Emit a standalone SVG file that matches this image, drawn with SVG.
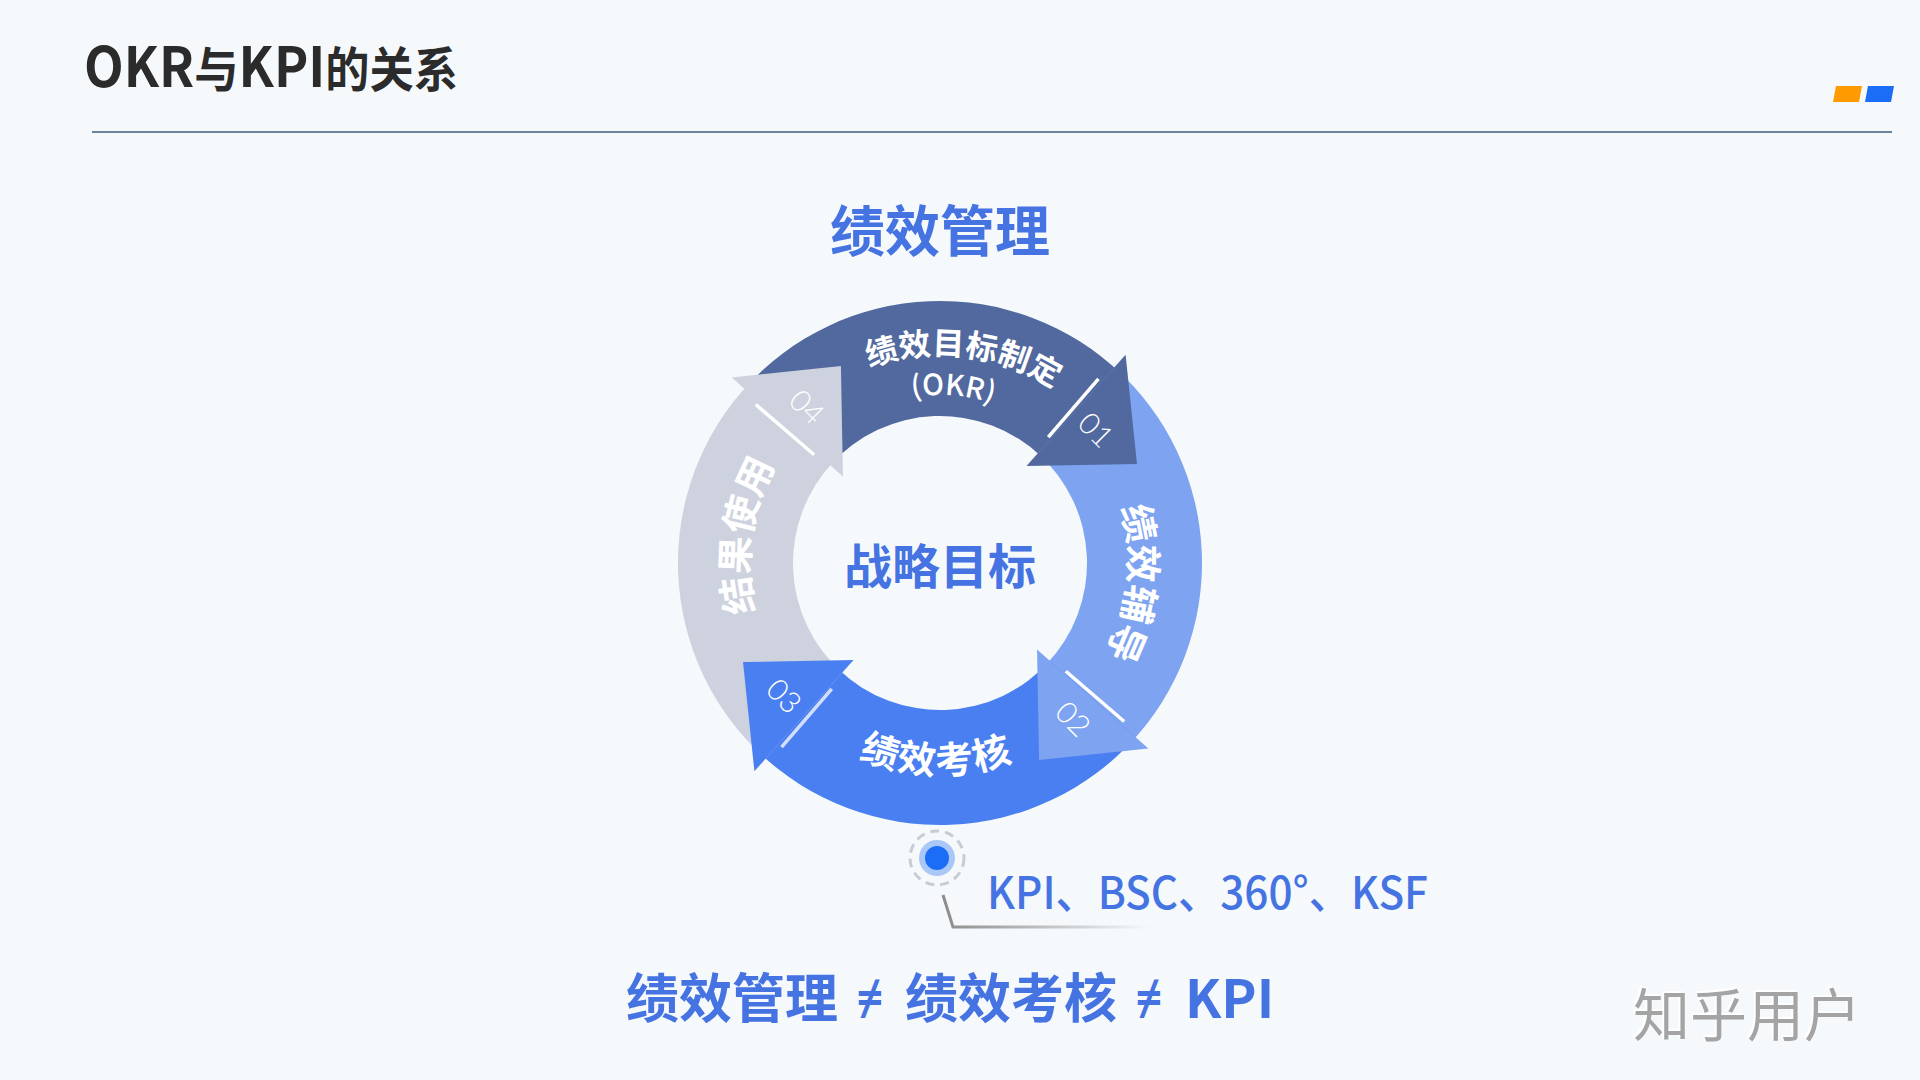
<svg xmlns="http://www.w3.org/2000/svg" xmlns:xlink="http://www.w3.org/1999/xlink" width="1920" height="1080" viewBox="0 0 1920 1080">
<defs>
<style>
.cjk{font-family:"Noto Sans CJK SC","Noto Sans",sans-serif}
.wb{fill:#ffffff;font-weight:700}
.num{font-family:"Lato","Noto Sans",sans-serif;font-weight:300;font-size:30px;fill:#ffffff}
.sep{stroke:#ffffff;stroke-width:3.5;stroke-linecap:butt}
.blue{fill:#4673E2}
.neq{font-family:"Noto Sans","DejaVu Sans",sans-serif;font-size:46px;font-weight:700;fill:#4673E2}
.ttl{font-family:"Noto Sans CJK SC","Noto Sans",sans-serif;font-weight:700;fill:#2B2B2B}
</style>
<path id="pTop" d="M 773.01 438.99 A 208 208 0 0 1 1130.89 480.39"/>
<path id="pOkr" d="M 801.30 468.23 A 168 168 0 0 1 1091.41 490.14"/>
<path id="pRight" d="M 1051.09 410.10 A 189 189 0 0 1 1016.87 735.66"/>
<path id="pLeft" d="M 822.41 713.51 A 191 191 0 0 1 868.45 385.91"/>
<path id="pBottom" d="M 755.46 665.29 A 211 211 0 0 0 1120.86 671.67"/>
<linearGradient id="leadGrad" x1="0" y1="0" x2="1" y2="0">
<stop offset="0" stop-color="#8c8c8c"/>
<stop offset="1" stop-color="#8c8c8c" stop-opacity="0"/>
</linearGradient>
<filter id="wm" x="-10%" y="-20%" width="120%" height="140%">
<feDropShadow dx="-2" dy="-2" stdDeviation="0.5" flood-color="#ffffff" flood-opacity="1"/>
</filter>
</defs>
<rect x="0" y="0" width="1920" height="1080" fill="#F5F9FC"/>

<g id="header">
<text x="84" y="87" class="ttl" font-size="48" textLength="374" lengthAdjust="spacingAndGlyphs"><tspan font-size="56">OKR</tspan>与<tspan font-size="56">KPI</tspan>的关系</text>
<line x1="92" y1="132" x2="1892" y2="132" stroke="#3E5E7E" stroke-width="1.6"/>
<polygon points="1836,86 1862,86 1859,102 1833,102" fill="#FF9A00"/>
<polygon points="1868,86 1894,86 1891,102 1865,102" fill="#1A6DF4"/>
</g>

<g id="title">
<text x="940" y="251" text-anchor="middle" class="cjk blue" font-size="55" font-weight="700">绩效管理</text>
</g>

<g id="ring">
<g id="bodies">
<path id="body01" d="M 744.38 388.71 A 262 262 0 0 1 1121.04 373.61 L 1041.58 456.74 A 147 147 0 0 0 830.24 465.21 Z" fill="#51699E"/>
<path id="body02" d="M 1114.29 367.38 A 262 262 0 0 1 1129.39 744.04 L 1046.26 664.58 A 147 147 0 0 0 1037.79 453.24 Z" fill="#7EA3F1"/>
<path id="body03" d="M 1135.62 737.29 A 262 262 0 0 1 758.96 752.39 L 838.42 669.26 A 147 147 0 0 0 1049.76 660.79 Z" fill="#4A7FF1"/>
<path id="body04" d="M 765.71 758.62 A 262 262 0 0 1 750.61 381.96 L 833.74 461.42 A 147 147 0 0 0 842.21 672.76 Z" fill="#CDD2DE"/>
</g>
<g id="heads">
<polygon id="head01" points="1125.60,354.69 1136.99,463.92 1026.48,465.94" fill="#51699E"/>
<polygon id="head02" points="1148.31,748.60 1039.08,759.99 1037.06,649.48" fill="#7EA3F1"/>
<polygon id="head03" points="754.40,771.31 743.01,662.08 853.52,660.06" fill="#4A7FF1"/>
<polygon id="head04" points="731.69,377.40 840.92,366.01 842.94,476.52" fill="#CDD2DE"/>
</g>
<g id="step01">
<line class="sep" x1="1048.25" y1="437.15" x2="1098.46" y2="378.77"/>
<text class="num" x="1095.9" y="440.5" text-anchor="middle" transform="rotate(45 1095.9 429.9)">01</text>
<text class="cjk wb" font-size="32"><textPath href="#pTop" startOffset="50%" text-anchor="middle">绩效目标制定</textPath></text>
<text class="cjk" font-size="29" font-weight="500" fill="#ffffff"><textPath href="#pOkr" startOffset="50%" text-anchor="middle">(OKR)</textPath></text>
</g>
<g id="step02">
<line class="sep" x1="1065.85" y1="671.25" x2="1124.23" y2="721.46"/>
<text class="num" x="1073.1" y="729.5" text-anchor="middle" transform="rotate(45 1073.1 718.9)">02</text>
<text class="cjk wb" font-size="38"><textPath href="#pRight" startOffset="50%" text-anchor="middle">绩效辅导</textPath></text>
</g>
<g id="step03">
<line class="sep" x1="831.75" y1="688.85" x2="781.54" y2="747.23" stroke-opacity="0.75"/>
<text class="num" x="784.1" y="706.7" text-anchor="middle" transform="rotate(45 784.1 696.1)">03</text>
<text class="cjk wb" font-size="38" letter-spacing="2"><textPath href="#pBottom" startOffset="50%" text-anchor="middle">绩效考核</textPath></text>
</g>
<g id="step04">
<line class="sep" x1="814.15" y1="454.75" x2="755.77" y2="404.54"/>
<text class="num" x="806.9" y="417.7" text-anchor="middle" transform="rotate(45 806.9 407.1)">04</text>
<text class="cjk wb" font-size="38"><textPath href="#pLeft" startOffset="50%" text-anchor="middle">结果使用</textPath></text>
</g>
</g>

<g id="center">
<text x="940" y="584" text-anchor="middle" class="cjk blue" font-size="48" font-weight="700">战略目标</text>
</g>

<g id="connectors">
<path d="M 943 895 L 953 927 L 1150 927" fill="none" stroke="url(#leadGrad)" stroke-width="3"/>
</g>

<g id="marker">
<circle cx="937" cy="858" r="27" fill="none" stroke="#C8CCD4" stroke-width="3" stroke-dasharray="9 6"/>
<circle cx="937" cy="858" r="18" fill="#A9C8F8"/>
<circle cx="937" cy="858" r="12" fill="#1A6DF4"/>
</g>

<g id="methods">
<text x="987" y="909" class="cjk blue" font-size="45" font-weight="500" textLength="441" lengthAdjust="spacingAndGlyphs">KPI、BSC、360°、KSF</text>
</g>

<g id="formula">
<text x="626" y="1018" class="cjk blue" font-size="53" font-weight="700">绩效管理</text>
<text x="870" y="1015" text-anchor="middle" class="neq">≠</text>
<text x="905" y="1018" class="cjk blue" font-size="53" font-weight="700">绩效考核</text>
<text x="1149" y="1015" text-anchor="middle" class="neq">≠</text>
<text x="1185" y="1018" class="cjk blue" font-size="53" font-weight="700">KPI</text>
</g>

<g id="watermark">
<text x="1633" y="1036" class="cjk" font-size="57" fill="#A4A4A4" filter="url(#wm)">知乎用户</text>
</g>
</svg>
